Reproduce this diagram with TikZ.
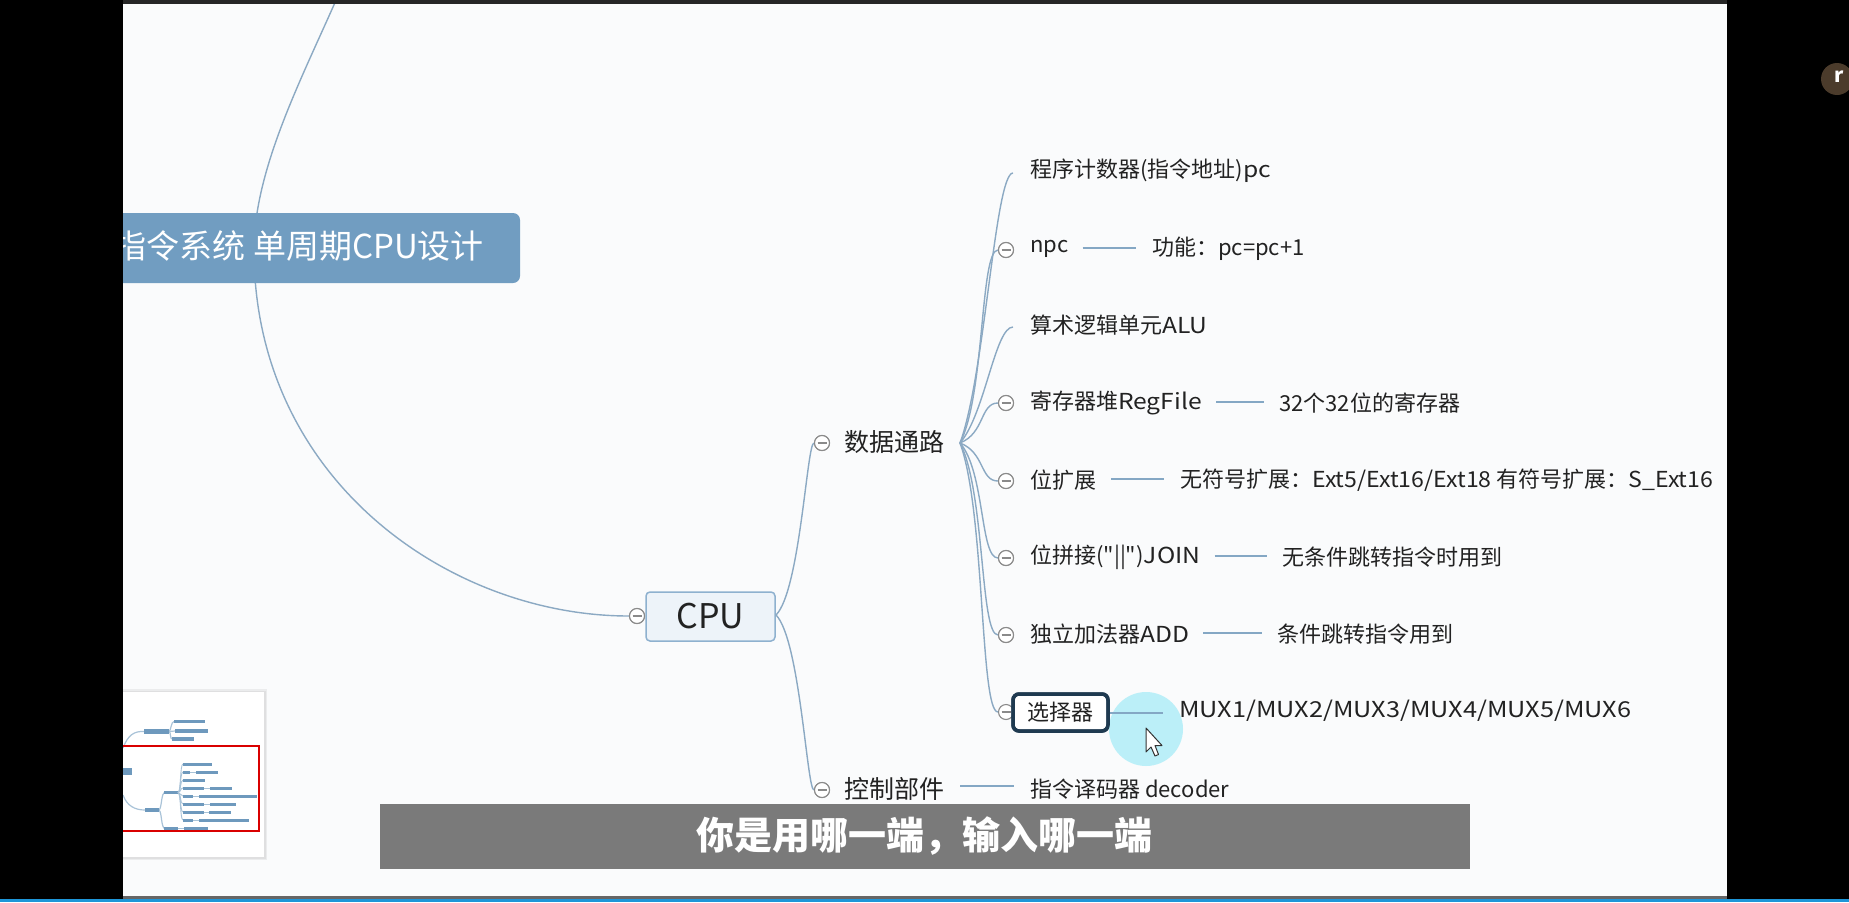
\documentclass[tikz,border=0pt]{standalone}
\usepackage{fontspec}
\setmainfont{Noto Sans CJK SC}
\newfontfamily\latw{Noto Sans CJK SC}[FakeStretch=1.12]
\newfontfamily\latx{Noto Sans CJK SC}[FakeStretch=1.05]
\newfontfamily\latm{Noto Sans CJK SC}[FakeStretch=1.15]
\newfontfamily\nomap{Noto Sans CJK SC}[Ligatures=TeXOff]
\usetikzlibrary{calc}
\definecolor{canvas}{HTML}{FAFBFC}
\definecolor{conn}{HTML}{8BA9C3}
\definecolor{detail}{HTML}{84A7C4}
\definecolor{titlefill}{HTML}{719DC1}
\definecolor{cpufill}{HTML}{EDF3F9}
\definecolor{cpuborder}{HTML}{8EB1CF}
\definecolor{selborder}{HTML}{1F3A50}
\definecolor{subbar}{HTML}{7A7A7A}
\definecolor{txt}{HTML}{222222}
\definecolor{minibar}{HTML}{6E99BD}
\definecolor{miniline}{HTML}{A9C3D8}
\definecolor{cursorhl}{HTML}{B5EEF8}
\definecolor{foldgray}{HTML}{8A8A8A}
\definecolor{iconbrown}{HTML}{4B3B2B}
\definecolor{bottomblue}{HTML}{1E96D8}
\tikzset{
  lvlthree/.style={anchor=west, inner sep=0pt, text=txt, font=\fontsize{22}{26}\selectfont},
  lvltwo/.style={anchor=west, inner sep=0pt, text=txt, font=\fontsize{25}{30}\selectfont},
  fold/.style={circle, draw=foldgray, fill=white, line width=1.1pt, minimum size=15pt, inner sep=0pt,
    path picture={\draw[foldgray, line width=1.1pt] ([xshift=-4.5pt]path picture bounding box.center) -- ([xshift=4.5pt]path picture bounding box.center);}},
  curve/.style={draw=conn, line width=1.4pt},
  dline/.style={draw=detail, line width=2pt},
  minib/.style={fill=minibar, draw=none},
  minil/.style={draw=miniline, line width=1.2pt},
}
\newcommand\fanto[2]{\draw[curve] let \p1=(#1), \p2=(#2) in (\p1) .. controls (\x1+25pt, {\y1+0.25*(\y2-\y1)}) and (\x2-18pt, \y2) .. (\p2);}
\newcommand\branchto[2]{\draw[curve] let \p1=(#1), \p2=(#2) in (\p1) .. controls (\x1+24pt, {\y1+0.14*(\y2-\y1)}) and (\x2-7pt, \y2) .. (\p2);}
% detail connector: from topic #1 to its note #2, horizontal at the topic's height
\newcommand\detailto[4]{\draw[dline] ([xshift=#3pt,yshift=1pt]#1.east) -- ([xshift=-#4pt,yshift=1pt]#1.east -| #2.west);}
\begin{document}
\begin{tikzpicture}[x=1pt,y=-1pt]
\useasboundingbox (0,0) rectangle (1849,902);
\fill[canvas] (0,0) rectangle (1849,902);

% big arc passing behind the title
\coordinate (arctop) at (337,-2);
\node[fold] (fcpu) at (637,616) {};
\draw[curve] (arctop) .. controls (301,80) and (254,170) .. (254,250) .. controls (254,480) and (450,616) .. (fcpu.west);

% title
\node[fill=titlefill, rounded corners=7pt, minimum width=420pt, minimum height=70pt, inner sep=0pt] (titlebox) at (310,248) {};
\node[anchor=east, inner sep=0pt, text=white, font=\fontsize{33}{38}\selectfont] (title) at (484,246) {指令系统 单周期CPU设计};

% CPU
\node[fill=cpufill, draw=cpuborder, line width=1.5pt, rounded corners=4pt, minimum width=129pt, minimum height=49pt, inner sep=0pt, text=txt, font=\fontsize{34}{40}\selectfont] (cpu) at (710.5,616.5) {CPU};

% level 2
\node[fold] (fdp) at (822,443) {};
\node[lvltwo] (dp) at (844,442) {数据通路};
\node[fold] (fctl) at (822,790) {};
\node[lvltwo] (ctl) at (844,789) {控制部件};
\coordinate (cpuout) at (776,615);
\branchto{cpuout}{fdp.west}
\branchto{cpuout}{fctl.west}
\coordinate (dpfan) at (960,443);

% level 3 texts
\node[lvlthree] (pc) at (1030,171) {程序计数器(指令地址){\latw pc}};
\coordinate (epc) at (1013,173);
\node[fold] (fnpc) at (1006,250) {};
\node[lvlthree] (npc) at (1030,249) {npc};
\node[lvlthree] (alu) at (1030,325) {算术逻辑单元{\latw ALU}};
\coordinate (ealu) at (1013,327);
\node[fold] (freg) at (1006,403) {};
\node[lvlthree] (reg) at (1030,403) {寄存器堆{\latw RegFile}};
\node[fold] (fext) at (1006,481) {};
\node[lvlthree] (ext) at (1030,480) {位扩展};
\node[fold] (fjoin) at (1006,558) {};
\node[lvlthree] (join) at (1030,557) {位拼接{\nomap ("||")}{\latw JOIN}};
\node[fold] (fadd) at (1006,635) {};
\node[lvlthree] (add) at (1030,634) {独立加法器{\latw ADD}};
\node[fold] (fsel) at (1006,712) {};
\node[draw=selborder, fill=white, line width=3.5pt, rounded corners=6pt, minimum width=95pt, minimum height=37pt, inner sep=0pt, text=txt, font=\fontsize{22}{26}\selectfont] (sel) at (1060.5,712.5) {选择器};

\fanto{dpfan}{epc}
\fanto{dpfan}{fnpc.west}
\fanto{dpfan}{ealu}
\fanto{dpfan}{freg.west}
\fanto{dpfan}{fext.west}
\fanto{dpfan}{fjoin.west}
\fanto{dpfan}{fadd.west}
\fanto{dpfan}{fsel.west}
% redraw folds on top of curves
\node[fold] at (fnpc) {};
\node[fold] at (freg) {};
\node[fold] at (fext) {};
\node[fold] at (fjoin) {};
\node[fold] at (fadd) {};
\node[fold] at (fdp) {};
\node[fold] at (fctl) {};
\node[fold] at (fcpu) {};

% details
\node[lvlthree] (npcd) at (1152,249) {功能：pc=pc+1};
\detailto{npc}{npcd}{14}{16}
\node[lvlthree] (regd) at (1279,403) {32个32位的寄存器};
\detailto{reg}{regd}{14}{15}
\node[lvlthree] (extd) at (1180,480) {无符号扩展：{\latx Ext5/Ext16/Ext18} 有符号扩展：{\latx S\_Ext16}};
\detailto{ext}{extd}{15}{16}
\node[lvlthree] (joind) at (1282,557) {无条件跳转指令时用到};
\detailto{join}{joind}{14}{15}
\node[lvlthree] (addd) at (1277,634) {条件跳转指令用到};
\detailto{add}{addd}{14}{15}

% cursor highlight
\fill[cursorhl, opacity=0.9] (1146,729) circle (37);
\node[lvlthree] (seld) at (1179,711) {{\latm MUX1/MUX2/MUX3/MUX4/MUX5/MUX6}};
\draw[dline] (sel.east) -- ([xshift=-16pt]sel.east -| seld.west);
\node[draw=selborder, line width=3.5pt, rounded corners=6pt, minimum width=95pt, minimum height=37pt, inner sep=0pt] at (sel) {};

\node[lvlthree] (ctld) at (1030,789) {指令译码器 decoder};
\draw[dline] ([xshift=16pt,yshift=3pt]ctl.east) -- ([xshift=-16pt,yshift=3pt]ctl.east -| ctld.west);

% cursor arrow
\draw[fill=white, draw=black!80, line width=1pt, line join=round] (1146,728) -- (1146,752) -- (1151,747) -- (1155,756) -- (1158.5,754.5) -- (1155,745.5) -- (1162,745.5) -- cycle;

% subtitle
\node[fill=subbar, minimum width=1090pt, minimum height=65pt, inner sep=0pt] (subbox) at (925,836.5) {};
\node[text=white, inner sep=0pt, font=\fontsize{38}{44}\selectfont\bfseries] (subtxt) at (924,836) {你是用哪一端，输入哪一端};

% minimap
\fill[black, opacity=0.06] (121,689) rectangle (267,860);
\fill[black, opacity=0.05] (122,690.5) rectangle (265.5,858.5);
\fill[white] (123,692) rectangle (264,857);
\draw[minil] (123,748) .. controls (128,735) and (134,731) .. (144,731.5);
\draw[minil] (169,731.5) .. controls (171,731) and (171,721.5) .. (174,721.5);
\draw[minil] (169,731.5) -- (175,731);
\draw[minil] (169,731.5) .. controls (171,732) and (170,739) .. (172,739);
\fill[minib] (144,729) rectangle (169,734);
\fill[minib] (174,720) rectangle (205,723);
\fill[minib] (175,729) rectangle (208,733);
\fill[minib] (172,737) rectangle (194,741);
\fill[minib] (123,768) rectangle (132,775);
\draw[minil] (123,795) .. controls (127,806) and (135,810) .. (145,810);
\draw[minil] (159,810) .. controls (162,808) and (161,792.5) .. (165,792.5);
\draw[minil] (159,810) .. controls (162,812) and (161,828.5) .. (165,828.5);
\fill[minib] (145,808) rectangle (159,812);
\fill[minib] (164,791) rectangle (178,794);
\foreach \yy in {764,772,780,788,796,804,812,820}
  \draw[minil, line width=0.9pt] (178,792.5) .. controls (181,792.5) and (180,\yy) .. (183,\yy);
\fill[minib] (183,763) rectangle (212,765.5);
\fill[minib] (183,771) rectangle (190,773.5);
\fill[minib] (196,771) rectangle (218,773.5);
\fill[minib] (183,779) rectangle (205,781.5);
\fill[minib] (183,787) rectangle (204,789.5);
\fill[minib] (210,787) rectangle (232,789.5);
\fill[minib] (183,795) rectangle (193,797.5);
\fill[minib] (199,795) rectangle (257,797.5);
\fill[minib] (183,803) rectangle (204,805.5);
\fill[minib] (210,803) rectangle (236,805.5);
\fill[minib] (183,811) rectangle (204,813.5);
\fill[minib] (209,811) rectangle (231,813.5);
\fill[minib] (183,819) rectangle (193,821.5);
\fill[minib] (199,819) rectangle (249,821.5);
\foreach \xa/\xb/\yy in {190/196/772.2, 204/210/788.2, 193/199/796.2, 204/210/804.2, 204/209/812.2, 193/199/820.2, 178/184/828.5}
  \draw[miniline, line width=0.8pt] (\xa,\yy) -- (\xb,\yy);
\fill[minib] (164,827) rectangle (178,830);
\fill[minib] (184,827) rectangle (208,830);
\draw[red!85!black, line width=1.5pt] (110,746) rectangle (259,831);

% screen frame
\fill[black] (0,0) rectangle (123,902);
\fill[black] (1727,0) rectangle (1849,902);
\fill[black!85] (123,0) rectangle (1727,4);
\fill[black!60] (123,896) rectangle (1727,899);
\fill[bottomblue] (0,899) rectangle (1849,902);
\fill[iconbrown] (1837,79) circle (16);
\node[text=white, font=\fontsize{20}{24}\selectfont\bfseries, inner sep=0pt] (icon) at (1839,77) {r};
\end{tikzpicture}
\end{document}
